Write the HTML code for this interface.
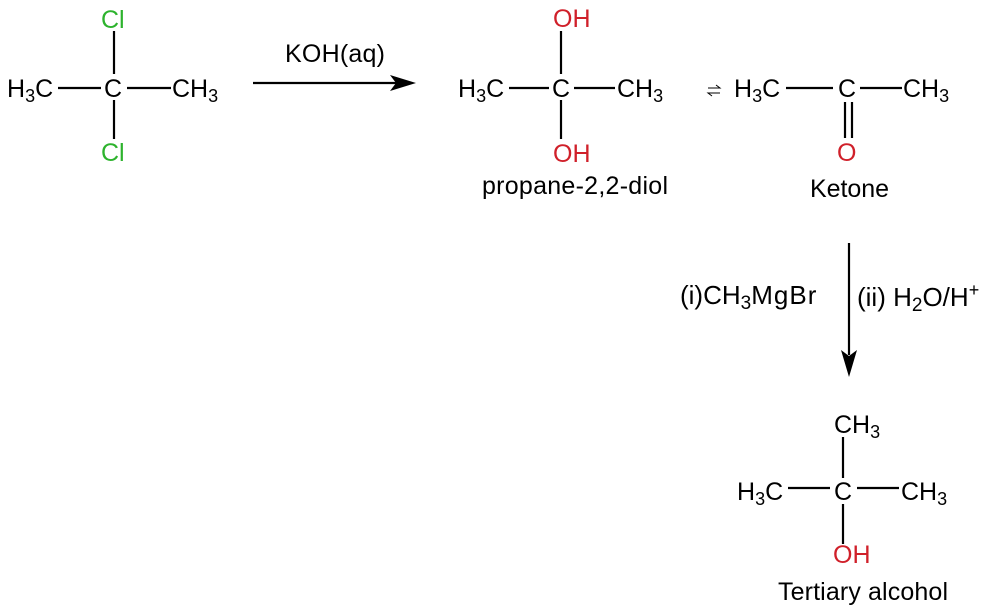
<!DOCTYPE html>
<html><head><meta charset="utf-8"><style>
html,body{margin:0;padding:0;background:#fff;}
svg{display:block;}
text{font-family:"Liberation Sans",Arial,sans-serif;font-size:25px;fill:#000;}
.g{fill:#2db32d;} .r{fill:#d0202a;}
.s{font-size:18px;}
</style></head><body>
<svg width="992" height="615" viewBox="0 0 992 615" xmlns="http://www.w3.org/2000/svg">
<g stroke="#000" stroke-width="2.2" fill="none">
<line x1="114" y1="31" x2="114" y2="74"/>
<line x1="114" y1="100" x2="114" y2="139"/>
<line x1="58" y1="88" x2="101" y2="88"/>
<line x1="127" y1="88" x2="171" y2="88"/>
<line x1="253" y1="83" x2="400" y2="83"/>
<line x1="561" y1="31" x2="561" y2="74"/>
<line x1="561" y1="100" x2="561" y2="139"/>
<line x1="509" y1="88" x2="549" y2="88"/>
<line x1="574" y1="88" x2="615" y2="88"/>
<line x1="786" y1="88" x2="833" y2="88"/>
<line x1="860" y1="88" x2="902" y2="88"/>
<line x1="845" y1="102" x2="845" y2="138"/>
<line x1="852" y1="102" x2="852" y2="138"/>
<line x1="849" y1="243" x2="849" y2="355"/>
<line x1="843" y1="437" x2="843" y2="478"/>
<line x1="843" y1="504" x2="843" y2="544"/>
<line x1="788" y1="488" x2="830" y2="488"/>
<line x1="857" y1="488" x2="899" y2="488"/>
<path d="M708 88 H720 L716 85 M720 93 H708 L712 96" stroke-width="1"/>
</g>
<polygon points="416,83 390,75 396,83 390,91" fill="#000"/>
<polygon points="849,377 841,350 849,356 857,350" fill="#000"/>

<text x="101" y="28" class="g">Cl</text>
<text x="101" y="161" class="g">Cl</text>
<text x="7" y="97">H<tspan class="s" dy="5">3</tspan><tspan dy="-5">C</tspan></text>
<text x="104" y="97">C</text>
<text x="172" y="97">CH<tspan class="s" dy="5">3</tspan></text>
<text x="285" y="62" textLength="100">KOH(aq)</text>

<text x="553" y="27" class="r">OH</text>
<text x="553" y="162" class="r">OH</text>
<text x="458" y="97">H<tspan class="s" dy="5">3</tspan><tspan dy="-5">C</tspan></text>
<text x="552" y="97">C</text>
<text x="617" y="97">CH<tspan class="s" dy="5">3</tspan></text>
<text x="482" y="194" textLength="186">propane-2,2-diol</text>

<text x="734" y="97">H<tspan class="s" dy="5">3</tspan><tspan dy="-5">C</tspan></text>
<text x="838" y="97">C</text>
<text x="903" y="97">CH<tspan class="s" dy="5">3</tspan></text>
<text x="837" y="161" class="r">O</text>
<text x="810" y="197" textLength="79">Ketone</text>

<text x="680" y="304" style="font-size:26px">(i)CH<tspan class="s" dy="5" style="font-size:19px">3</tspan><tspan dy="-5" style="font-size:26px;letter-spacing:1px">MgBr</tspan></text>
<text x="857" y="306" style="font-size:26px">(ii) H<tspan class="s" dy="5" style="font-size:19px">2</tspan><tspan dy="-5">O/H</tspan><tspan class="s" dy="-10">+</tspan></text>

<text x="834" y="433">CH<tspan class="s" dy="5">3</tspan></text>
<text x="737" y="500">H<tspan class="s" dy="5">3</tspan><tspan dy="-5">C</tspan></text>
<text x="834" y="500">C</text>
<text x="901" y="500">CH<tspan class="s" dy="5">3</tspan></text>
<text x="833" y="563" class="r">OH</text>
<text x="778" y="600" textLength="170">Tertiary alcohol</text>
</svg>
</body></html>
